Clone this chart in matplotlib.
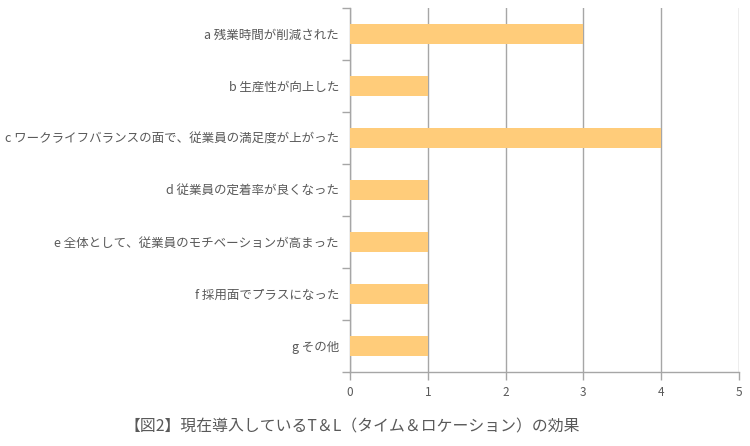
import matplotlib
matplotlib.use("Agg")
import matplotlib.pyplot as plt

plt.rcParams['font.family'] = ['Noto Sans CJK JP', 'DejaVu Sans']

categories = [
    "a 残業時間が削減された",
    "b 生産性が向上した",
    "c ワークライフバランスの面で、従業員の満足度が上がった",
    "d 従業員の定着率が良くなった",
    "e 全体として、従業員のモチベーションが高まった",
    "f 採用面でプラスになった",
    "g その他",
]
values = [3, 1, 4, 1, 1, 1, 1]
x_ticks = [0, 1, 2, 3, 4, 5]
title = "【図2】現在導入しているT＆L（タイム＆ロケーション）の効果"

text_color = "#595959"
line_color = "#a6a6a6"
bar_color = "#ffcc7a"

fig = plt.figure(figsize=(7.5, 4.46), dpi=100)
ax = fig.add_axes([350 / 750, 1 - 372 / 446, 389 / 750, 364 / 446])

n = len(categories)
pos = list(range(n))
ax.barh(pos, values, height=0.385, color=bar_color, zorder=3)

ax.set_xlim(0, 5)
ax.set_ylim(n - 0.5, -0.5)
ax.set_xticks(x_ticks)
ax.set_xticklabels([str(t) for t in x_ticks], fontsize=8.5, color=text_color)
ax.xaxis.grid(True, color=line_color, linewidth=1, zorder=0)

# category labels sit in the middle of each band, tick marks on band edges
ax.set_yticks(pos)
ax.set_yticklabels(categories, fontsize=9, color=text_color)
ax.tick_params(axis='y', length=0, pad=8)
ax.set_yticks([p - 0.5 for p in range(n + 1)], minor=True)
ax.tick_params(axis='y', which='minor', length=6, color=line_color, width=1)
ax.tick_params(axis='x', length=6, color=line_color, width=1, pad=4)

for side in ['top', 'right']:
    ax.spines[side].set_visible(False)
for side in ['left', 'bottom']:
    ax.spines[side].set_color(line_color)
    ax.spines[side].set_linewidth(1)

fig.text(352 / 750, 1 - 427 / 446, title, ha='center', va='center',
         fontsize=11.4, color=text_color)

fig.savefig("out.png", dpi=100)
